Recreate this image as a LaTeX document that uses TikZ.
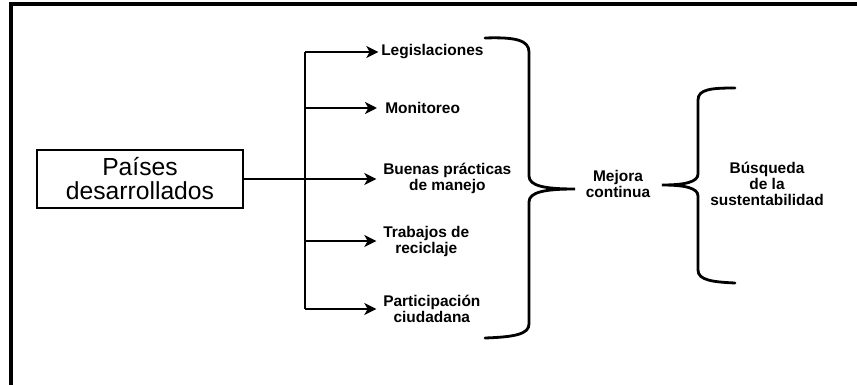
\documentclass[tikz,border=0pt]{standalone}
\usepackage{fontspec}
\setmainfont{Liberation Sans}
\usetikzlibrary{arrows.meta}
\tikzset{
  freccia/.style={line width=2.1pt, -{Stealth[length=9pt,width=9pt,inset=2.5pt]}},
  voce/.style={font=\bfseries\fontsize{11.6}{12}\selectfont, align=center, inner sep=0pt},
  graffa/.style={line width=2.1pt, line cap=round}
}
\begin{document}
\begin{tikzpicture}[x=0.75pt, y=-0.75pt]
  \useasboundingbox (0,0) rectangle (857,385);
  %cornice
  \draw[line width=2.6pt] (11,395) -- (11,4) -- (870,4);
  %riquadro
  \node[draw, line width=1.8pt, minimum width=154.5pt, minimum height=43.5pt, inner sep=0pt,
        align=center, font=\fontsize{18.5}{18}\selectfont] (paesi) at (140,179) {Países\\desarrollados};
  %voci
  \node[voce, anchor=west] (leg) at (381,52) {Legislaciones};
  \node[voce, anchor=west] (mon) at (385,108) {Monitoreo};
  \node[voce, anchor=west] (bue) at (383,178) {Buenas prácticas\\de manejo};
  \node[voce, anchor=west] (tra) at (383,241) {Trabajos de\\reciclaje};
  \node[voce, anchor=west] (par) at (383,309) {Participación\\ciudadana};
  \node[voce] (mej) at (618,184) {Mejora\\continua};
  \node[voce] (bus) at (767,184) {Búsqueda\\de la\\sustentabilidad};
  %tronco
  \coordinate (t1) at (305,52);
  \coordinate (t2) at (305,108);
  \coordinate (t3) at (305,179);
  \coordinate (t4) at (305,241);
  \coordinate (t5) at (305,309);
  \draw[line width=2.1pt] (t1) -- (t5);
  \draw[line width=2.1pt] (paesi.east) -- (t3);
  %frecce
  \draw[freccia, shorten >=2pt] (t1) -- (t1 -| leg.west);
  \draw[freccia, shorten >=6pt] (t2) -- (t2 -| mon.west);
  \draw[freccia, shorten >=5pt] (t3) -- (t3 -| bue.west);
  \draw[freccia, shorten >=5pt] (t4) -- (t4 -| tra.west);
  \draw[freccia, shorten >=5pt] (t5) -- (t5 -| par.west);
  %graffe
  \draw[graffa] (485,38) .. controls (515,37) and (529,40) .. (529,52) -- (529,176)
    .. controls (529,186) and (545,189) .. (575,189)
    .. controls (545,189) and (529,192) .. (529,202) -- (529,324)
    .. controls (529,334) and (515,337) .. (485,338);
  \draw[graffa] (735,88) .. controls (712,88) and (698,89) .. (698,100) -- (698,174)
    .. controls (698,182) and (685,185) .. (662,185)
    .. controls (685,185) and (698,188) .. (698,196) -- (698,270)
    .. controls (698,280) and (712,282) .. (735,283);
\end{tikzpicture}
\end{document}
